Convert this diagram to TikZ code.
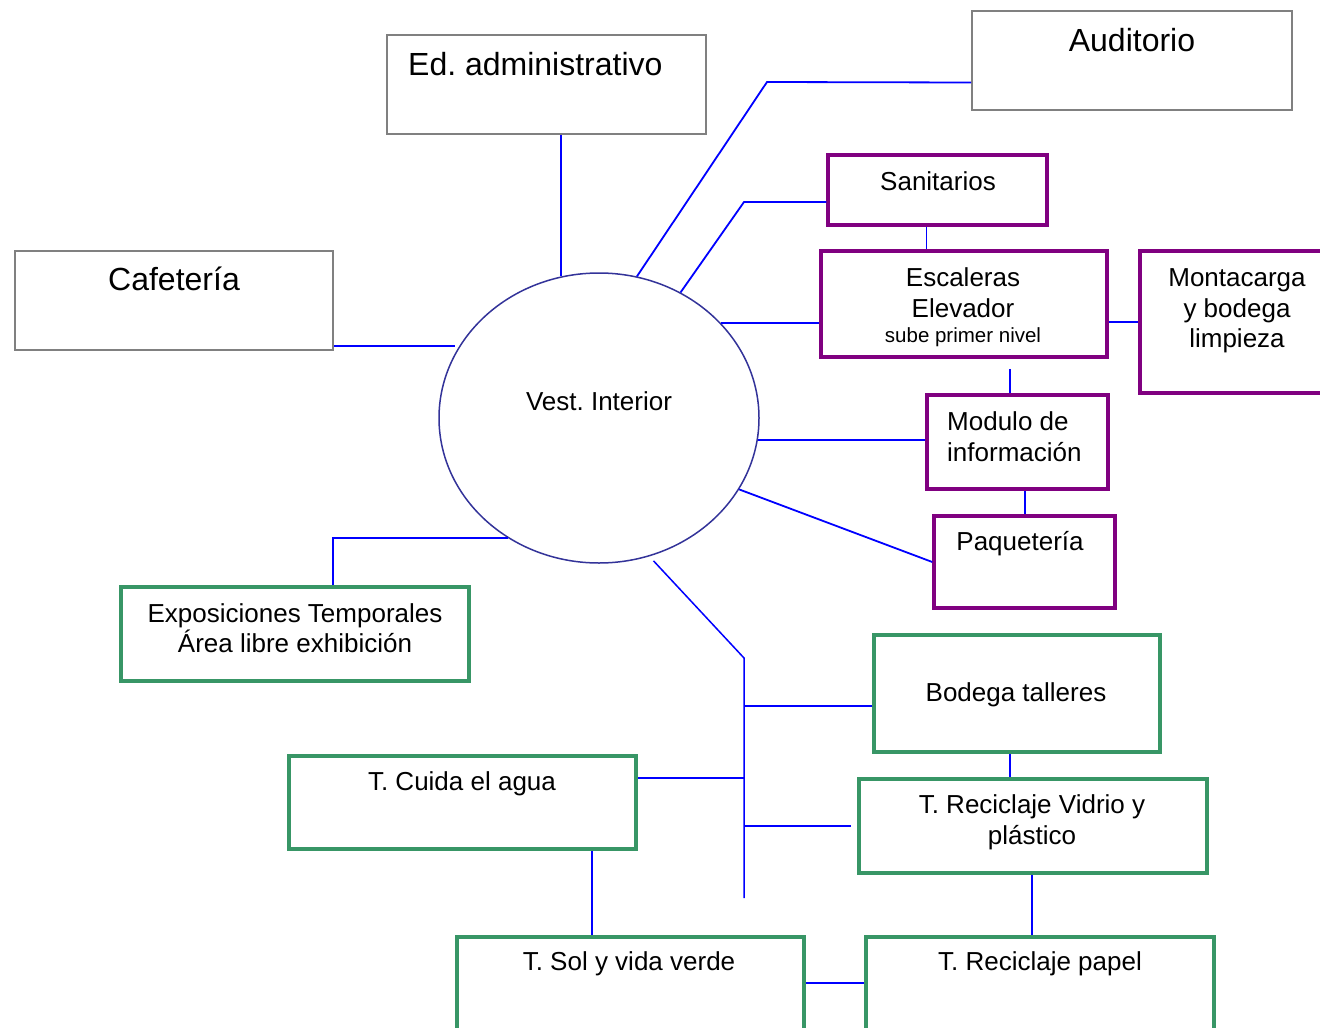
\documentclass[tikz,border=0pt]{standalone}
\usepackage{fontspec}
\setmainfont{Liberation Sans}
\usetikzlibrary{shapes.geometric}
\frenchspacing
\definecolor{frgray}{RGB}{128,128,128}
\definecolor{frpurple}{RGB}{128,0,128}
\definecolor{frgreen}{RGB}{56,150,102}
\definecolor{linkblue}{RGB}{0,0,255}
\definecolor{ovalblue}{RGB}{51,51,153}
\newcommand\fbig{\fontsize{32}{38}\selectfont}
\newcommand\fmid{\fontsize{26}{31}\selectfont}
\newcommand\fsmall{\fontsize{20.5}{24}\selectfont}
\tikzset{
  boxbase/.style={draw, rectangle, inner sep=0pt},
  graybox/.style={boxbase, draw=frgray, line width=2pt},
  purplebox/.style={boxbase, draw=frpurple, line width=3.5pt},
  greenbox/.style={boxbase, draw=frgreen, line width=3.5pt},
  txt/.style={inner sep=0pt, anchor=base, text=black},
  conn/.style={draw=linkblue, line width=1.8pt},
  busline/.style={draw=linkblue, line width=1.5pt},
}
\begin{document}
\begin{tikzpicture}[x=1pt,y=-1pt]
\useasboundingbox (0,0) rectangle (1320,1028);
\fill[white] (0,0) rectangle (1320,1028);

% grey boxes
\node[graybox, minimum width=319pt, minimum height=99pt] (ed) at (546.5,84.5) {};
\node[graybox, minimum width=320pt, minimum height=99pt] (aud) at (1132,60.5) {};
\node[graybox, minimum width=318pt, minimum height=99pt] (caf) at (174,300.5) {};

% purple boxes
\node[purplebox, minimum width=219pt, minimum height=70pt] (san) at (937.5,190) {};
\node[purplebox, minimum width=286pt, minimum height=106pt] (esc) at (964,304) {};
\node[purplebox, minimum width=190pt, minimum height=142pt] (mon) at (1235,322) {};
\node[purplebox, minimum width=181pt, minimum height=94pt] (mod) at (1017.5,442) {};
\node[purplebox, minimum width=181pt, minimum height=92pt] (paq) at (1024.5,562) {};

% green boxes
\node[greenbox, minimum width=348pt, minimum height=94pt] (exp) at (295,634) {};
\node[greenbox, minimum width=286pt, minimum height=117pt] (bod) at (1017,693.5) {};
\node[greenbox, minimum width=347pt, minimum height=93pt] (cui) at (462.5,802.5) {};
\node[greenbox, minimum width=348pt, minimum height=94pt] (vid) at (1033,826) {};
\node[greenbox, minimum width=347pt, minimum height=98pt] (sol) at (630.5,986) {};
\node[greenbox, minimum width=348pt, minimum height=98pt] (pap) at (1040,986) {};

% central hall
\node[draw=ovalblue, line width=1.5pt, ellipse, minimum width=320pt, minimum height=290pt, inner sep=0pt] (ves) at (599,418) {};

% labels
\node[txt, anchor=base west] (t-ed) at (408,75) {\fbig Ed. administrativo};
\node[txt] (t-aud) at (1132,51) {\fbig Auditorio};
\node[txt] (t-caf) at (174,290) {\fbig Cafetería};
\node[txt] (t-san) at (938,190) {\fmid Sanitarios};
\node[txt] (t-esc1) at (963,286) {\fmid Escaleras};
\node[txt] (t-esc2) at (963,317) {\fmid Elevador};
\node[txt] (t-esc3) at (963,342) {\fsmall sube primer nivel};
\node[txt] (t-mon1) at (1237,286) {\fmid Montacarga};
\node[txt] (t-mon2) at (1237,317) {\fmid y bodega};
\node[txt] (t-mon3) at (1237,347) {\fmid limpieza};
\node[txt, anchor=base west] (t-mod1) at (947,430) {\fmid Modulo de};
\node[txt, anchor=base west] (t-mod2) at (947,461) {\fmid información};
\node[txt] (t-paq) at (1020,550) {\fmid Paquetería};
\node[txt] (t-ves) at (599,410) {\fmid Vest. Interior};
\node[txt] (t-exp1) at (295,622) {\fmid Exposiciones Temporales};
\node[txt] (t-exp2) at (295,652) {\fmid Área libre exhibición};
\node[txt] (t-bod) at (1016,701) {\fmid Bodega talleres};
\node[txt] (t-cui) at (462,790) {\fmid T. Cuida el agua};
\node[txt] (t-vid1) at (1032,813) {\fmid T. Reciclaje Vidrio y};
\node[txt] (t-vid2) at (1032,844) {\fmid plástico};
\node[txt] (t-sol) at (629,970) {\fmid T. Sol y vida verde};
\node[txt] (t-pap) at (1040,970) {\fmid T. Reciclaje papel};

% junction points
\coordinate (audbend) at (767,82);
\coordinate (sanbend) at (744,202);
\coordinate (bustop) at (744,658);
\coordinate (busend) at (744,898);

% connectors around the hall
\draw[conn] (ves.105) -- (ves.105 |- ed.south);
\draw[conn] (ves.75) -- (audbend) -- ([yshift=-22pt]aud.west);
\draw[conn] (ves.57) -- (sanbend) -- (sanbend -| san.west);
\draw[conn] (ves.38.7) -- (ves.38.7 -| esc.west);
\draw[conn] ([yshift=-18pt]esc.east) -- ([yshift=-18pt]esc.east -| mon.west);
\draw[conn] ([xshift=-11pt]san.south) -- ([xshift=-11pt]san.south |- esc.north);
\draw[conn, shorten <=10pt] ([xshift=46pt]esc.south) -- ([xshift=46pt]esc.south |- mod.north);
\draw[conn] (ves.-8.3) -- (ves.-8.3 -| mod.west);
\draw[conn] ([xshift=7.5pt]mod.south) -- ([xshift=7.5pt]mod.south |- paq.north);
\draw[conn] (ves.-27.7) -- (paq.west);
\draw[conn, shorten >=5pt] ([yshift=5pt]caf.south east) -- ([yshift=5pt]caf.south east -| ves.152.6);
\draw[conn] (ves.233) -| ([xshift=38pt]exp.north);

% workshop bus
\draw[busline, shorten <=6pt] (ves.-70) -- (bustop) -- (busend);
\draw[conn] ([yshift=-12.5pt]bod.west) -- ([yshift=-12.5pt]bod.west -| bustop);
\draw[conn] ([yshift=24.5pt]cui.east) -- ([yshift=24.5pt]cui.east -| bustop);
\draw[conn, shorten >=6pt] (vid.west -| bustop) -- (vid.west);
\draw[busline] ([xshift=-7pt]bod.south) -- ([xshift=-7pt]bod.south |- vid.north);
\draw[busline] ([xshift=129.5pt]cui.south) -- ([xshift=129.5pt]cui.south |- sol.north);
\draw[busline] ([xshift=-1pt]vid.south) -- ([xshift=-1pt]vid.south |- pap.north);
\draw[conn] ([yshift=3pt]sol.east) -- ([yshift=3pt]sol.east -| pap.west);
\end{tikzpicture}
\end{document}
